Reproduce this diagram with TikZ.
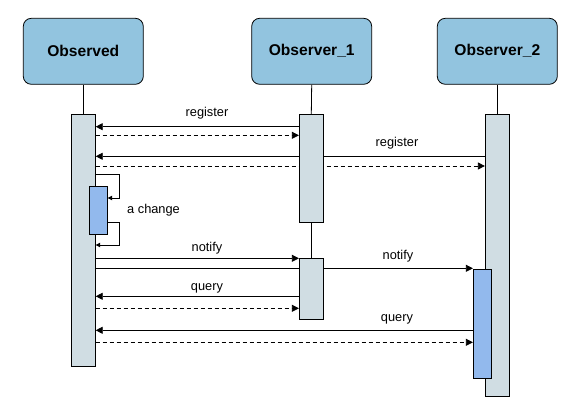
\documentclass[tikz,border=0pt]{standalone}
\usepackage{fontspec}
\setmainfont{Liberation Sans}
\usetikzlibrary{arrows.meta,backgrounds}
\definecolor{headfill}{HTML}{92C4DF}
\definecolor{barfill}{HTML}{D0DDE3}
\definecolor{actfill}{HTML}{92B9ED}
\tikzset{
  head/.style={draw=black, line width=0.8pt, fill=headfill, rounded corners=8pt, minimum width=120pt, minimum height=66pt, font=\fontsize{15.6}{18}\selectfont\bfseries, inner sep=0pt},
  lifebar/.style={draw=black, line width=0.8pt, fill=barfill, minimum width=24pt, inner sep=0pt},
  actbar/.style={draw=black, line width=0.8pt, fill=actfill, minimum width=18pt, inner sep=0pt},
  lifeline/.style={line width=0.8pt},
  msg/.style={line width=0.8pt, -{Triangle[length=7pt,width=7pt]}},
  reply/.style={msg, dashed, dash pattern=on 4pt off 3pt},
  selfmsg/.style={line width=0.8pt, -{Triangle[length=4.5pt,width=4.5pt]}},
  lbl/.style={font=\fontsize{12.8}{15}\selectfont, anchor=base, inner sep=0pt}
}
\begin{document}
\begin{tikzpicture}[x=1pt,y=-1pt]
\useasboundingbox (0,0) rectangle (582,412);
% headers
\node[head] (ohead) at (83.3,51.3) {Observed};
\node[head] (o1head) at (311.7,51.3) {Observer\_1};
\node[head] (o2head) at (497.3,51.3) {Observer\_2};
% bars
\node[lifebar, minimum height=251.7pt] (obar) at (83.3,240.15) {};
\node[lifebar, minimum height=108pt] (o1bara) at (311.3,168.3) {};
\node[lifebar, minimum height=60.7pt] (o1barb) at (311.3,288.65) {};
\node[lifebar, minimum height=282pt] (o2bar) at (497.3,255.3) {};
\node[actbar, minimum height=48pt] (oact) at (98.3,210) {};
\node[actbar, minimum height=109pt] (o2act) at (482.3,323.8) {};
\begin{pgfonlayer}{background}
% lifelines
\draw[lifeline] (ohead.south) -- (obar.north);
\draw[lifeline] (o1head.south) -- (o1bara.north);
\draw[lifeline] (o1bara.south) -- (o1barb.north);
\draw[lifeline] (o2head.south) -- (o2bar.north);
% messages
\draw[msg] (o1bara.west |- 0,126.7) -- (obar.east |- 0,126.7);
\draw[reply] (obar.east |- 0,135.3) -- (o1bara.west |- 0,135.3);
\draw[msg] (o2bar.west |- 0,156.3) -- (obar.east |- 0,156.3);
\draw[reply] (obar.east |- 0,166) -- (o2bar.west |- 0,166);
\draw[selfmsg] (obar.east |- 0,174) -- (119.3,174) -- (119.3,198) -- (oact.east |- 0,198);
\draw[selfmsg] (oact.east |- 0,222.3) -- (119.3,222.3) -- (119.3,245) -- (obar.east |- 0,245);
\draw[msg] (obar.east |- 0,258.3) -- (o1barb.west |- 0,258.3);
\draw[msg] (obar.east |- 0,268.3) -- (o2act.west |- 0,268.3);
\draw[msg] (o1barb.west |- 0,296.3) -- (obar.east |- 0,296.3);
\draw[reply] (obar.east |- 0,308.3) -- (o1barb.west |- 0,308.3);
\draw[msg] (o2act.west |- 0,330.3) -- (obar.east |- 0,330.3);
\draw[reply] (obar.east |- 0,342.3) -- (o2act.west |- 0,342.3);
\end{pgfonlayer}
% labels
\node[lbl] (l1) at (207,117) {register};
\node[lbl] (l2) at (397,146.5) {register};
\node[lbl, anchor=base west] (l3) at (127,213.3) {a change};
\node[lbl] (l4) at (207,251.5) {notify};
\node[lbl] (l5) at (398,259.3) {notify};
\node[lbl] (l6) at (207,290) {query};
\node[lbl] (l7) at (397,321.7) {query};
\end{tikzpicture}
\end{document}
